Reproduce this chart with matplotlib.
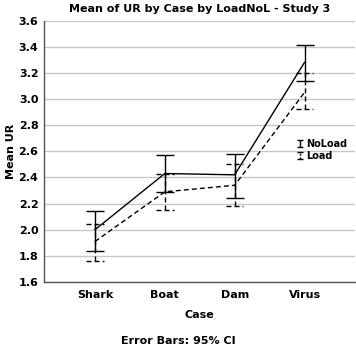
import numpy as np
import matplotlib
matplotlib.use('Agg')
import matplotlib.pyplot as plt
from matplotlib.lines import Line2D
from matplotlib.legend_handler import HandlerErrorbar

# values
cases = ['Shark', 'Boat', 'Dam', 'Virus']
noload_mean = [2.00, 2.43, 2.42, 3.28]
noload_low = [1.84, 2.29, 2.24, 3.14]
noload_high = [2.14, 2.57, 2.58, 3.41]
load_mean = [1.91, 2.29, 2.34, 3.05]
load_low = [1.76, 2.15, 2.18, 2.92]
load_high = [2.04, 2.43, 2.50, 3.20]
y_ticks = [1.6, 1.8, 2.0, 2.2, 2.4, 2.6, 2.8, 3.0, 3.2, 3.4, 3.6]

plt.rcParams['font.family'] = 'DejaVu Sans'
plt.rcParams['font.weight'] = 'bold'

fig = plt.figure(figsize=(3.56, 3.49), dpi=100)
ax = fig.add_axes([0.1236, 0.192, 0.873, 0.749])

x = np.arange(len(cases))
dash = (0, (3.6, 2.2))


def ci(mean, low, high):
    mean = np.array(mean)
    return [mean - np.array(low), np.array(high) - mean]


# solid series: NoLoad
ax.plot(x, noload_mean, color='black', lw=1.0, zorder=3)
eb1 = ax.errorbar(x, noload_mean, yerr=ci(noload_mean, noload_low, noload_high),
                  fmt='none', ecolor='black', elinewidth=1.0, capsize=6.5,
                  capthick=1.0, label='NoLoad', zorder=3)

# dashed series: Load
ax.plot(x, load_mean, color='black', lw=1.0, linestyle=dash, zorder=3)
eb2 = ax.errorbar(x, load_mean, yerr=ci(load_mean, load_low, load_high),
                  fmt='none', ecolor='black', elinewidth=1.0, capsize=6.5,
                  capthick=1.0, label='Load', zorder=3)
eb2[2][0].set_linestyle((0, (1.5, 1.2)))

leg = ax.legend(loc='center left', bbox_to_anchor=(0.80, 0.505), frameon=False,
                fontsize=7, handlelength=0.6, handletextpad=0.3,
                labelspacing=0.2, borderpad=0,
                handler_map={type(eb1): HandlerErrorbar(yerr_size=0.32)})
for ln in leg.findobj(Line2D):
    if ln.get_marker() == '_':
        ln.set_markersize(4.5)
eb2[2][0].set_linestyle(dash)

# dashed caps for the Load series (drawn after the legend copies the caps)
for cap in eb2[1]:
    cap.set_visible(False)
ax.hlines(load_low, x - 0.125, x + 0.125, colors='black', lw=1.0,
          linestyles=[dash], zorder=3)
ax.hlines(load_high, x - 0.125, x + 0.125, colors='black', lw=1.0,
          linestyles=[dash], zorder=3)

ax.set_xlim(-0.73, 3.72)
ax.set_ylim(1.6, 3.6)
ax.set_yticks(y_ticks)
ax.set_yticklabels(['%.1f' % t for t in y_ticks])
ax.set_xticks(x)
ax.set_xticklabels(cases)
ax.tick_params(axis='both', length=0, labelsize=8, pad=4)
ax.tick_params(axis='x', pad=6)
ax.yaxis.grid(True, color='#c8c8c8', lw=1.0)
ax.set_axisbelow(True)

for side in ['top', 'right']:
    ax.spines[side].set_visible(False)
for side in ['left', 'bottom']:
    ax.spines[side].set_color('#555555')
    ax.spines[side].set_linewidth(1.0)

ax.set_title('Mean of UR by Case by LoadNoL - Study 3', fontsize=8,
             fontweight='bold', pad=6)
ax.set_ylabel('Mean UR', fontsize=8, fontweight='bold', labelpad=2)
ax.set_xlabel('Case', fontsize=8, fontweight='bold', labelpad=7)
fig.text(0.5, 0.024, 'Error Bars: 95% CI', ha='center', va='center',
         fontsize=8, fontweight='bold')

fig.savefig('out.png', dpi=100)
